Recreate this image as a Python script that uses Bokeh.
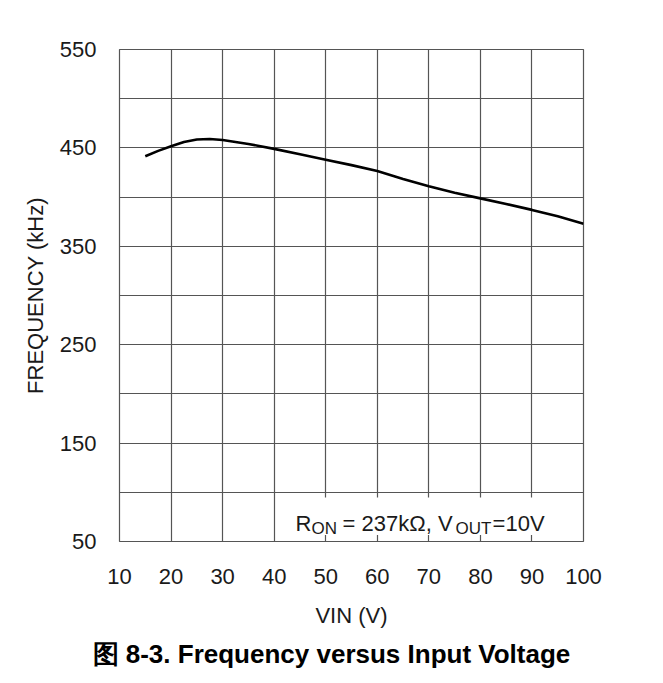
from bokeh.plotting import figure
from bokeh.models import Range1d, FixedTicker, Label, Title
from bokeh.embed import file_html
from bokeh.resources import INLINE

# Data
vin = [15, 17.5, 20, 22.5, 25, 27.5, 30, 35, 40, 45, 50, 55, 60, 65, 70, 75, 80, 85, 90, 95, 100]
freq = [441.5, 447, 451.6, 456, 458.5, 459, 458, 454, 449, 443.5, 438, 432.5, 426.5,
        418.5, 411, 404.5, 398.7, 393, 387, 380.5, 373]

x_ticks = [10, 20, 30, 40, 50, 60, 70, 80, 90, 100]
y_ticks = [50, 150, 250, 350, 450, 550]
y_grid = [50, 100, 150, 200, 250, 300, 350, 400, 450, 500, 550]

title_text = "图 8-3. Frequency versus Input Voltage"
x_label = "VIN (V)"
y_label = "FREQUENCY (kHz)"

FONT = "Liberation Sans"
TXT = "#1a1a1a"
GRID = "#555555"

p = figure(width=655, height=675, output_backend="svg", toolbar_location=None,
           x_range=Range1d(10, 100), y_range=Range1d(50, 550),
           min_border_left=119, min_border_right=72, min_border_top=49, min_border_bottom=134)
p.background_fill_color = "white"
p.border_fill_color = "white"
p.outline_line_color = GRID
p.outline_line_width = 1.2

p.line(vin, freq, line_color="black", line_width=2.6)

for ax in (p.xaxis[0], p.yaxis[0]):
    ax.axis_line_color = None
    ax.major_tick_line_color = None
    ax.minor_tick_line_color = None
    ax.major_tick_in = 0
    ax.major_tick_out = 0
    ax.minor_tick_in = 0
    ax.minor_tick_out = 0
    ax.major_label_text_font = FONT
    ax.major_label_text_font_size = "22px"
    ax.major_label_text_color = TXT
    ax.axis_label_text_font = FONT
    ax.axis_label_text_font_size = "22px"
    ax.axis_label_text_font_style = "normal"
    ax.axis_label_text_color = TXT

p.xaxis.ticker = FixedTicker(ticks=x_ticks)
p.yaxis.ticker = FixedTicker(ticks=y_ticks)
p.xaxis.axis_label = x_label
p.yaxis.axis_label = y_label
p.xaxis.major_label_standoff = 27
p.xaxis.axis_label_standoff = 16
p.yaxis.major_label_standoff = 23
p.yaxis.axis_label_standoff = 9

p.xgrid.ticker = FixedTicker(ticks=x_ticks)
p.ygrid.ticker = FixedTicker(ticks=y_grid)
for g in (p.xgrid[0], p.ygrid[0]):
    g.grid_line_color = GRID
    g.grid_line_width = 1.2
    g.grid_line_alpha = 1.0

# white background patch behind the annotation text (covers the grid there)
patch = p.quad(left=[42.2], right=[99.3], bottom=[56.5], top=[94.7],
               fill_color="white", fill_alpha=1.0, line_color=None)
patch.level = "overlay"

# Annotation "R_ON = 237kΩ, V_OUT=10V" with subscripts
ann_x, ann_y = 44.15, 68.3
pieces = [
    ("R", 0, 0, "22px"),
    ("ON", 16, -5, "17px"),
    ("= 237kΩ, V", 47, 0, "22px"),
    ("OUT", 160, -5, "17px"),
    ("=10V", 197, 0, "22px"),
]
for t, dx, dy, fs in pieces:
    p.add_layout(Label(x=ann_x, y=ann_y, x_offset=dx, y_offset=dy, text=t,
                       text_font=FONT, text_font_size=fs, text_color=TXT,
                       text_baseline="alphabetic", text_align="left",
                       level="overlay"))

# Caption title below the chart
p.add_layout(Title(text=title_text, align="left", offset=-27, text_font=FONT,
                   text_font_size="26px", text_font_style="bold", text_color="black",
                   standoff=12), "below")

open("out.html", "w").write(file_html(p, INLINE))
